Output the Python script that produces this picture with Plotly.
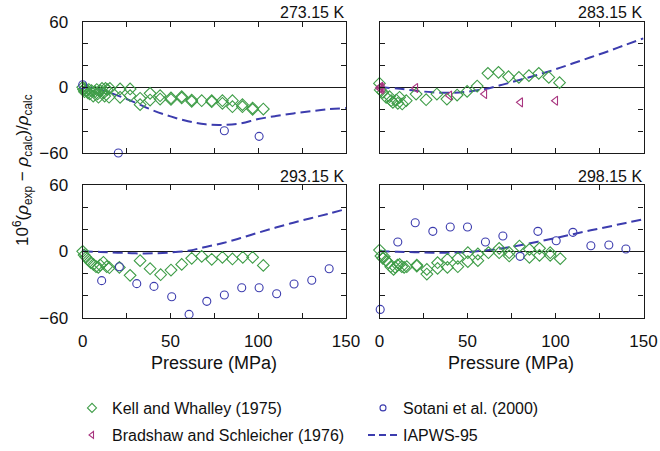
import plotly.graph_objects as go

# ---------------- data ----------------
# 273.15 K
kw273_p = [0, 0.5, 1, 1.5, 2, 3, 3.5, 4, 5, 6, 7, 8, 8.5, 9, 10, 11, 12, 12.5, 13, 14, 15, 15.5,
           21.3, 21.3, 27, 27, 32.7, 32.7, 38.4, 38.4, 44.1, 44.1, 50.3, 50.3, 56.4, 56.4,
           62.1, 62.1, 67.8, 73.5, 73.5, 79.6, 79.6, 85.3, 85.3, 91, 91, 96.8, 96.8, 102.9]
kw273_v = [0, -2, -4, -1, -3, -5, -2, -6, -3, -8, -4, -2, -6, -9, -3, -1, -5, -8, -1, -2, -9, -1,
           -1.5, -9.1, -1.5, -7.6, -10, -15.8, -5.5, -11.6, -7.6, -10.7, -9.7, -11, -8.5, -9.7,
           -11.6, -12.8, -12.2, -12.2, -13.1, -12.2, -14.6, -12.2, -17.7, -15.8, -17.7, -18.9, -20.1, -19.8]
so273_p = [0, 20.3, 80.7, 100.5]
so273_v = [2.4, -60, -39.6, -44.8]

# 283.15 K
kw283_p = [0, 0.4, 1.9, 3.8, 5.7, 6.6, 7.6, 9.5, 10.4, 11.4, 12.9, 15.2, 20.8, 26.5, 32.6, 38.3,
           44.1, 49.8, 55.5, 61.6, 67.6, 73.3, 79.2, 84.9, 90.5, 96.2, 102.3]
kw283_v = [3.6, -2.4, -4.6, -9.1, -8.5, -12.2, -13.7, -11.6, -14.6, -9.1, -15.2, -12.2, -6.1, -11.3,
           -6.1, -10.7, -7, -3.7, 1.2, 12.8, 13.7, 9.7, 9.1, 10.7, 12.8, 9.1, 4.3]
bs283_p = [0, 0.6, 0.9, 1.5, 20.5, 39.8, 59.7, 80.1, 100]
bs283_v = [-0.6, 0.6, -1.8, -0.6, -0.6, -7.6, -6.1, -13.7, -12.2]

# 293.15 K
kw293_p = [0, 0.8, 1.9, 3.2, 4.6, 6.1, 7.6, 8.9, 9.9, 11.8, 13.7, 15.2, 20.9, 27, 32.7, 38.4,
           44.4, 50.3, 56.4, 62.1, 67.8, 73.5, 79.6, 85.3, 91.2, 96.8, 102.9]
kw293_v = [0, -3.3, -5.4, -7.8, -10.3, -11.8, -13.9, -14.5, -12.4, -9.9, -13.9, -14.8, -14.5, -21.7,
           -8.4, -15.7, -21.1, -16.9, -11.8, -6.3, -4.5, -7.2, -5.4, -6.9, -5.4, -5.4, -12.7]
so293_p = [10.8, 20.9, 30.8, 40.6, 50.7, 60.6, 70.7, 80.7, 90.6, 100.5, 110.5, 120.4, 130.5, 140.4]
so293_v = [-26.5, -13.9, -29.2, -31.7, -41, -57, -45.2, -39.5, -32.9, -32.9, -38.3, -29.5, -26.2, -15.7]

# 298.15 K
kw298_p = [0, 0.8, 1.9, 2.7, 3.8, 5.1, 6.4, 8, 8.9, 10.2, 11.4, 12.7, 14, 15.5, 21.2, 21.2, 26.9, 26.9,
           33, 33, 38.6, 38.6, 44.5, 44.5, 50.2, 50.2, 55.9, 55.9, 61.9, 68, 68, 73.7, 73.7, 79.5,
           85.2, 85.2, 90.9, 90.9, 97, 97, 102.7]
kw298_v = [1.2, -4.2, -6.3, -4.8, -8.4, -10.3, -13.9, -16.3, -14.5, -12.4, -11.8, -13.9, -14.5, -13.9,
           -12.4, -13.3, -16.3, -20.5, -10.3, -15.4, -7.2, -14.5, -6.3, -13.9, -1.2, -9.3, -2.4, -8.4,
           -1.2, 2.7, -1.2, -1.2, -4.2, 4.8, 1.8, -5.4, 2.7, -3.6, -1.2, -3.6, -6.6]
so298_p = [0.4, 10.4, 20.3, 30.3, 40.2, 50, 60.2, 70.1, 79.9, 90, 100.4, 109.9, 120.1, 130.3, 140]
so298_v = [-52.5, 8.4, 25.9, 18.1, 22, 22, 8.4, 13.9, -4.5, 18.1, 9.6, 17.2, 5.1, 5.7, 2.1]

# IAPWS-95 curves (read at 10 MPa steps)
iap_p = [0, 10, 20, 30, 40, 50, 60, 70, 80, 90, 100, 110, 120, 130, 140, 150]
iap273 = [0, -2, -7.5, -14, -21, -26.5, -31, -33.8, -34.3, -33, -29, -26.2, -23.8, -21.8, -20, -18.9]
iap283 = [0, -1, -3, -4.5, -5, -4, -1.5, 2.5, 7, 11.5, 16.5, 22, 27.5, 33, 39, 44.8]
iap293 = [0, -0.5, -1.2, -1.8, -1.8, -1, 0.5, 4, 7.5, 12, 16.9, 21.5, 25.9, 30, 34, 38.3]
iap298 = [0, -0.3, -0.8, -1.2, -1.2, -0.6, 0.8, 2.8, 5.5, 8.7, 12, 15.5, 19, 22.3, 25.7, 29]

panel_titles = ["273.15 K", "283.15 K", "293.15 K", "298.15 K"]
x_ticks = [0, 50, 100, 150]
y_ticks = [-60, 0, 60]

GREEN = "#3f9d48"
BLUE = "#3c3cae"
MAG = "#a8357f"
FONT = "Liberation Sans, Arial, sans-serif"
W, H = 660, 451

fig = go.Figure()

def kell(p, v, ax):
    fig.add_trace(go.Scatter(x=p, y=v, mode="markers", xaxis="x" + ax, yaxis="y" + ax,
                             marker=dict(symbol="diamond-open", size=9, color=GREEN, line=dict(width=1.1)),
                             showlegend=False, cliponaxis=False))

def sotani(p, v, ax):
    fig.add_trace(go.Scatter(x=p, y=v, mode="markers", xaxis="x" + ax, yaxis="y" + ax,
                             marker=dict(symbol="circle-open", size=8, color=BLUE, line=dict(width=1.1)),
                             showlegend=False, cliponaxis=False))

def brad(p, v, ax):
    fig.add_trace(go.Scatter(x=p, y=v, mode="markers", xaxis="x" + ax, yaxis="y" + ax,
                             marker=dict(symbol="triangle-left-open", size=8, color=MAG, line=dict(width=1.1)),
                             showlegend=False, cliponaxis=False))

def iap(v, ax):
    fig.add_trace(go.Scatter(x=iap_p, y=v, mode="lines", xaxis="x" + ax, yaxis="y" + ax,
                             line=dict(color=BLUE, width=2, dash="10px,5px", shape="spline"),
                             showlegend=False))

iap(iap273, "")
kell(kw273_p, kw273_v, "")
sotani(so273_p, so273_v, "")

iap(iap283, "2")
kell(kw283_p, kw283_v, "2")
brad(bs283_p, bs283_v, "2")

iap(iap293, "3")
kell(kw293_p, kw293_v, "3")
sotani(so293_p, so293_v, "3")

iap(iap298, "4")
kell(kw298_p, kw298_v, "4")
sotani(so298_p, so298_v, "4")

# legend entries
fig.add_trace(go.Scatter(x=[None], y=[None], mode="markers", name="Kell and Whalley (1975)",
                         marker=dict(symbol="diamond-open", size=7, color=GREEN, line=dict(width=1.1)),
                         legend="legend"))
fig.add_trace(go.Scatter(x=[None], y=[None], mode="markers", name="Sotani et al. (2000)",
                         marker=dict(symbol="circle-open", size=6, color=BLUE, line=dict(width=1.1)),
                         legend="legend"))
fig.add_trace(go.Scatter(x=[None], y=[None], mode="markers", name="Bradshaw and Schleicher (1976)",
                         marker=dict(symbol="triangle-left-open", size=6, color=MAG, line=dict(width=1.1)),
                         legend="legend2"))
fig.add_trace(go.Scatter(x=[None], y=[None], mode="lines", name="IAPWS-95",
                         line=dict(color=BLUE, width=2, dash="7px,4px"),
                         legend="legend2"))

colx = [[82.7 / W, 346 / W], [379.5 / W, 643.5 / W]]
rowy = [[1 - 153 / H, 1 - 21.7 / H], [1 - 317.7 / H, 1 - 185 / H]]

axis_common = dict(showline=True, linecolor="#1a1a1a", linewidth=1.3, mirror="ticks",
                   ticks="inside", ticklen=5, tickwidth=1, tickcolor="#1a1a1a", automargin=False,
                   showgrid=False, tickfont=dict(family=FONT, size=17, color="#111"))

layout = dict(width=W, height=H, margin=dict(l=0, r=0, t=0, b=0, autoexpand=False),
              paper_bgcolor="white", plot_bgcolor="white",
              font=dict(family=FONT, color="#111"))

names = ["", "2", "3", "4"]
for i, n in enumerate(names):
    r, c = divmod(i, 2)
    xa = dict(axis_common, domain=colx[c], range=[0, 150], tickvals=x_ticks,
              minor=dict(dtick=25, ticks="inside", ticklen=5, tickcolor="#1a1a1a"),
              zeroline=False, anchor="y" + n, showticklabels=(r == 1), ticklabelstandoff=8)
    ya = dict(axis_common, domain=rowy[r], range=[-60, 60], tickvals=y_ticks,
              minor=dict(dtick=20, ticks="inside", ticklen=5, tickcolor="#1a1a1a"),
              zeroline=True, zerolinecolor="#1a1a1a", zerolinewidth=1.2,
              anchor="x" + n, showticklabels=(c == 0), ticklabelstandoff=10)
    layout["xaxis" + n] = xa
    layout["yaxis" + n] = ya

annotations = []
for i, t in enumerate(panel_titles):
    r, c = divmod(i, 2)
    annotations.append(dict(text=t, xref="paper", yref="paper", x=colx[c][1], y=rowy[r][1] + 9 / H,
                            xanchor="right", yanchor="middle", showarrow=False,
                            font=dict(family=FONT, size=16, color="#111")))
for c in range(2):
    annotations.append(dict(text="Pressure (MPa)", xref="paper", yref="paper",
                            x=(colx[c][0] + colx[c][1]) / 2, y=1 - 363 / H,
                            xanchor="center", yanchor="middle", showarrow=False,
                            font=dict(family=FONT, size=18, color="#111")))
annotations.append(dict(text="10<sup>6</sup>(<i>ρ</i><sub>exp</sub> − <i>ρ</i><sub>calc</sub>)/<i>ρ</i><sub>calc</sub>",
                        xref="paper", yref="paper", x=22 / W, y=1 - 170 / H, textangle=-90,
                        xanchor="center", yanchor="middle", showarrow=False,
                        font=dict(family=FONT, size=17, color="#111")))
layout["annotations"] = annotations

leg_common = dict(orientation="h", xanchor="left", yanchor="middle", entrywidth=246,
                  font=dict(family=FONT, size=16, color="#111"), bgcolor="rgba(0,0,0,0)",
                  itemclick=False, itemdoubleclick=False)
layout["legend"] = dict(leg_common, x=72 / W, y=1 - 408 / H)
layout["legend2"] = dict(leg_common, x=72 / W, y=1 - 435 / H)

fig.update_layout(**layout)
fig.write_html("out.html")
